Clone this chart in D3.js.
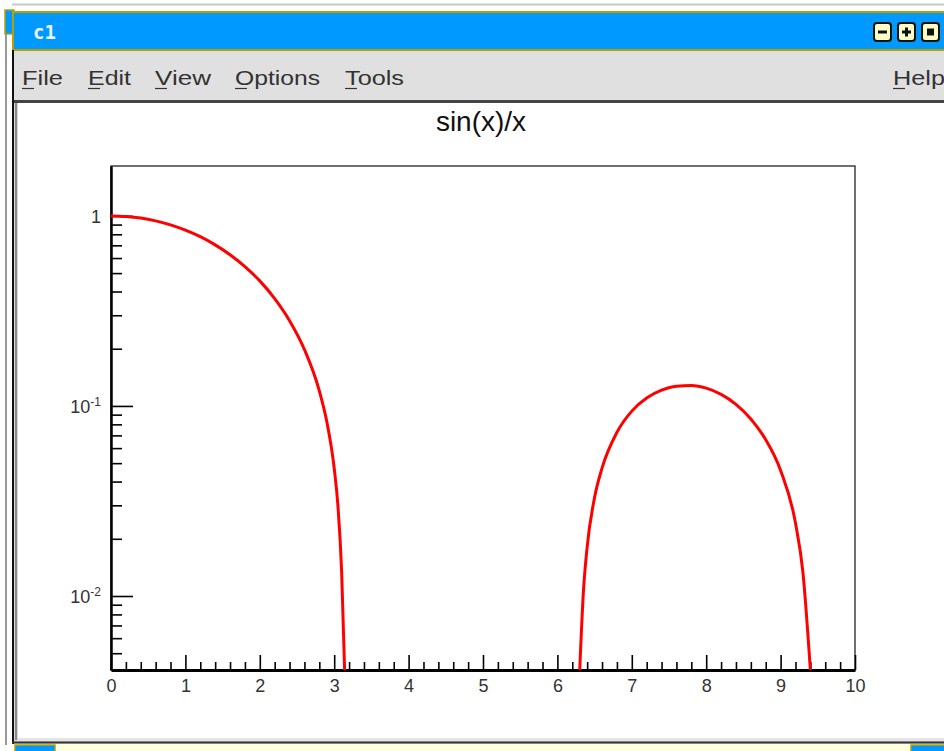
<!DOCTYPE html>
<html>
<head>
<meta charset="utf-8">
<script src="https://cdn.jsdelivr.net/npm/d3@7"></script>
<style>
  body { margin: 0; background: #fff; }
  svg { display: block; }
</style>
</head>
<body>
<div id="chart"></div>
<script>
const xValues = [0, 0.2, 0.4, 0.6, 0.8, 1.0, 1.2, 1.4, 1.6, 1.8, 2.0, 2.2, 2.4, 2.6, 2.8, 2.9, 3.0, 3.05, 3.1, 3.14, 3.2,
  3.6, 4.0, 4.5, 5.0, 5.5, 6.0, 6.25,
  6.3, 6.35, 6.4, 6.5, 6.6, 6.8, 7.0, 7.2, 7.4, 7.6, 7.8, 8.0, 8.2, 8.4, 8.6, 8.8, 9.0, 9.2, 9.3, 9.4, 9.45, 9.6, 10];
const yValues = [1.000, 0.993, 0.974, 0.941, 0.897, 0.841, 0.777, 0.704, 0.625, 0.541, 0.455, 0.367, 0.281, 0.198, 0.120, 0.0828, 0.0470, 0.0299, 0.0134, 0.0005, -0.0183,
  -0.123, -0.189, -0.217, -0.192, -0.128, -0.0466, -0.0053,
  0.0027, 0.0106, 0.0181, 0.0331, 0.0471, 0.0726, 0.0939, 0.110, 0.121, 0.127, 0.128, 0.124, 0.115, 0.102, 0.0854, 0.0664, 0.0458, 0.0242, 0.0133, 0.0027, -0.0022, -0.0181, -0.0544];

const xDomain = [0, 10];
const yDomain = [0.00408, 1.83];
const yMajorTicks = [1, 0.1, 0.01];
const yMajorLabels = [['1', ''], ['10', '-1'], ['10', '-2']];
const menuItems = ['File', 'Edit', 'View', 'Options', 'Tools'];
const chartTitle = 'sin(x)/x';
const windowTitle = 'c1';

const W = 944, H = 751;
const svg = d3.select('#chart').append('svg').attr('width', W).attr('height', H);

// ---- window chrome ----
const blue = '#0099ff', gold = '#b8a000';
svg.append('line').attr('x1', 12).attr('x2', W).attr('y1', 4.5).attr('y2', 4.5)
  .attr('stroke', '#c8c8c8').attr('stroke-width', 2);
svg.append('rect').attr('x', 5).attr('y', 10).attr('width', 9).attr('height', 24)
  .attr('fill', blue).attr('stroke', gold).attr('stroke-width', 1.5);

svg.append('rect').attr('x', 12).attr('y', 49).attr('width', W - 12).attr('height', H - 49).attr('fill', '#d8d8d8');
svg.append('rect').attr('x', 13).attr('y', 12).attr('width', W - 11).attr('height', 38)
  .attr('fill', blue).attr('stroke', gold).attr('stroke-width', 2);
svg.append('text').attr('x', 33).attr('y', 39).text(windowTitle)
  .attr('fill', '#eef6ff').attr('font-family', 'DejaVu Sans Mono').attr('font-weight', 'bold').attr('font-size', 19);

const btnX = [874, 898, 922];
btnX.forEach((bx, i) => {
  const g = svg.append('g').attr('transform', `translate(${bx},23)`);
  g.append('rect').attr('width', 17).attr('height', 18).attr('rx', 3)
    .attr('fill', '#ffffc8').attr('stroke', '#111').attr('stroke-width', 2);
  if (i === 0) g.append('rect').attr('x', 4).attr('y', 7.5).attr('width', 9).attr('height', 3).attr('fill', '#111');
  if (i === 1) {
    g.append('rect').attr('x', 4).attr('y', 7.5).attr('width', 9).attr('height', 3).attr('fill', '#111');
    g.append('rect').attr('x', 7).attr('y', 4.5).attr('width', 3).attr('height', 9).attr('fill', '#111');
  }
  if (i === 2) g.append('rect').attr('x', 5).attr('y', 5.5).attr('width', 7).attr('height', 7).attr('fill', '#111');
});

svg.append('rect').attr('x', 14).attr('y', 51).attr('width', W - 14).attr('height', 50).attr('fill', '#e0e0e0');
const menuX = [22, 88, 155, 235, 345];
const menuW = [41, 43, 56, 85, 59];
function menuText(label, mx, w) {
  svg.append('text').attr('x', mx).attr('y', 85)
    .attr('font-family', 'Liberation Sans').attr('font-size', 21)
    .attr('fill', '#333').attr('textLength', w).attr('lengthAdjust', 'spacingAndGlyphs')
    .text(label);
  svg.append('line').attr('x1', mx).attr('x2', mx + 12).attr('y1', 88.5).attr('y2', 88.5)
    .attr('stroke', '#333').attr('stroke-width', 1.2);
}
menuItems.forEach((m, i) => menuText(m, menuX[i], menuW[i]));
menuText('Help', 893, 52);

svg.append('line').attr('x1', 14).attr('x2', W).attr('y1', 101.5).attr('y2', 101.5).attr('stroke', '#444').attr('stroke-width', 3);
svg.append('rect').attr('x', 18).attr('y', 103).attr('width', W - 18).attr('height', 636).attr('fill', '#fff');

// left borders
svg.append('line').attr('x1', 6).attr('x2', 6).attr('y1', 34).attr('y2', 745).attr('stroke', '#999').attr('stroke-width', 2);
svg.append('line').attr('x1', 13).attr('x2', 13).attr('y1', 50).attr('y2', 745).attr('stroke', '#111').attr('stroke-width', 2);
svg.append('line').attr('x1', 16).attr('x2', 16).attr('y1', 103).attr('y2', 740).attr('stroke', '#888').attr('stroke-width', 2);

// bottom strip
svg.append('rect').attr('x', 18).attr('y', 738).attr('width', W - 18).attr('height', 3).attr('fill', '#e4e4e4');
svg.append('line').attr('x1', 12).attr('x2', W).attr('y1', 742.5).attr('y2', 742.5).attr('stroke', '#333').attr('stroke-width', 2);
svg.append('rect').attr('x', 12).attr('y', 744).attr('width', W - 12).attr('height', 7).attr('fill', '#ffffe0');
svg.append('rect').attr('x', 15).attr('y', 745).attr('width', 40).attr('height', 10)
  .attr('fill', blue).attr('stroke', gold).attr('stroke-width', 1.5);
svg.append('rect').attr('x', 911).attr('y', 745).attr('width', 40).attr('height', 10)
  .attr('fill', blue).attr('stroke', gold).attr('stroke-width', 1.5);

// ---- the chart ----
const frame = { left: 111, right: 855, top: 166, bottom: 670 };
const x = d3.scaleLinear().domain(xDomain).range([frame.left, frame.right]);
const y = d3.scaleLog().domain(yDomain).range([frame.bottom, frame.top]).clamp(true);

svg.append('text').attr('x', 481).attr('y', 131).attr('text-anchor', 'middle')
  .attr('font-family', 'Liberation Sans').attr('font-size', 28).attr('fill', '#111')
  .text(chartTitle);

svg.append('rect').attr('x', frame.left).attr('y', frame.top)
  .attr('width', frame.right - frame.left).attr('height', frame.bottom - frame.top)
  .attr('fill', 'none').attr('stroke', '#222').attr('stroke-width', 1.3);

// x axis: minor then major, ticks pointing inwards
const xMinor = d3.range(0, 50).map(i => i * 0.2).filter(v => Math.abs(v - Math.round(v)) > 1e-6);
svg.append('g').attr('transform', `translate(0,${frame.bottom})`)
  .call(d3.axisBottom(x).tickValues(xMinor).tickSizeInner(-8).tickSizeOuter(0).tickFormat(''))
  .call(g => g.select('.domain').remove())
  .call(g => g.selectAll('line').attr('stroke', '#000').attr('stroke-width', 1.6));

svg.append('g').attr('transform', `translate(0,${frame.bottom})`)
  .call(d3.axisBottom(x).ticks(10).tickSizeInner(-15).tickSizeOuter(0).tickPadding(9))
  .call(g => g.select('.domain').attr('stroke', '#000').attr('stroke-width', 3))
  .call(g => g.selectAll('line').attr('stroke', '#000').attr('stroke-width', 1.6))
  .call(g => g.selectAll('text').attr('font-family', 'Liberation Sans').attr('font-size', 18).attr('fill', '#333'));

// y axis (log): minor ticks 2..9 per decade
const yMinor = [];
[0.001, 0.01, 0.1, 1].forEach(dec => {
  for (let k = 2; k <= 9; k++) {
    const v = k * dec;
    if (v > yDomain[0] && v < yDomain[1]) yMinor.push(v);
  }
});
svg.append('g').attr('transform', `translate(${frame.left},0)`)
  .call(d3.axisLeft(y).tickValues(yMinor).tickSizeInner(-11).tickSizeOuter(0).tickFormat(''))
  .call(g => g.select('.domain').remove())
  .call(g => g.selectAll('line').attr('stroke', '#000').attr('stroke-width', 1.6));

const yAxisG = svg.append('g').attr('transform', `translate(${frame.left},0)`)
  .call(d3.axisLeft(y).tickValues(yMajorTicks).tickSizeInner(-22).tickSizeOuter(0).tickFormat(''))
  .call(g => g.select('.domain').attr('stroke', '#000').attr('stroke-width', 2.5))
  .call(g => g.selectAll('line').attr('stroke', '#000').attr('stroke-width', 1.6));

yAxisG.selectAll('.tick').each(function (d, i) {
  const lab = yMajorLabels[i];
  const t = d3.select(this).append('text')
    .attr('font-family', 'Liberation Sans').attr('font-size', 18).attr('fill', '#333')
    .attr('text-anchor', 'end').attr('x', -10).attr('dy', '0.36em');
  if (lab[1] === '') {
    t.text(lab[0]);
  } else {
    t.append('tspan').text(lab[0]);
    t.append('tspan').attr('font-size', 12).attr('dy', '-0.6em').text(lab[1]);
  }
});

// curve
const pts = xValues.map((v, i) => ({ x: v, y: yValues[i] }));
svg.append('clipPath').attr('id', 'frameclip')
  .append('rect').attr('x', frame.left).attr('y', frame.top)
  .attr('width', frame.right - frame.left).attr('height', frame.bottom - frame.top);
const line = d3.line()
  .defined(d => d.y > 0)
  .x(d => x(d.x))
  .y(d => y(d.y))
  .curve(d3.curveMonotoneX);
svg.append('path').datum(pts)
  .attr('clip-path', 'url(#frameclip)')
  .attr('fill', 'none').attr('stroke', '#ff0000').attr('stroke-width', 3)
  .attr('d', line);
</script>
</body>
</html>
